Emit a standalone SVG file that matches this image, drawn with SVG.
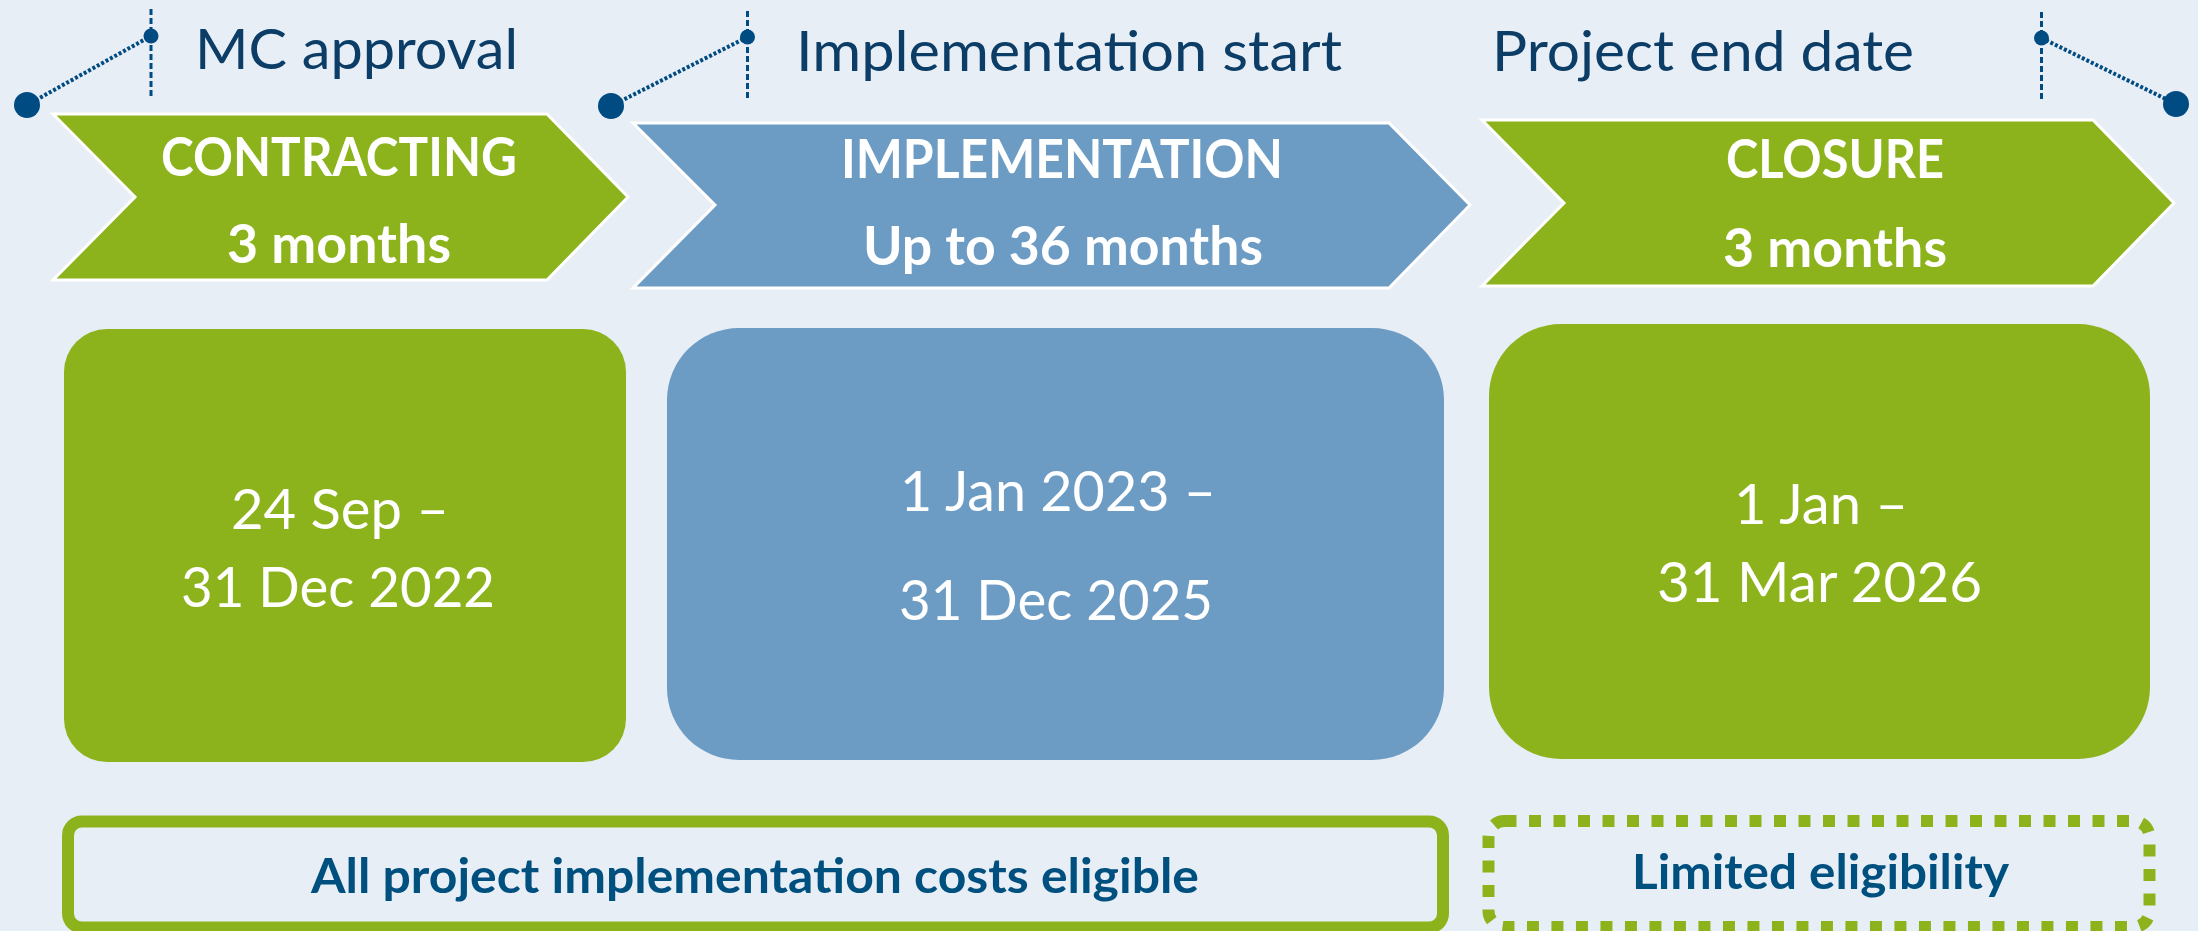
<svg xmlns="http://www.w3.org/2000/svg" width="2198" height="931" viewBox="0 0 2198 931">
  <style>
    .bg { fill: #E7EEF6; }
    .chev-g { fill: #8DB31C; stroke: #FFFFFF; stroke-width: 3; }
    .chev-b { fill: #6C9BC4; stroke: #FFFFFF; stroke-width: 3; }
    .box-g { fill: #8DB31C; }
    .box-b { fill: #6C9BC4; }
    .ttl { font-family: Lato, "Open Sans", "Liberation Sans", sans-serif; font-size: 57px; fill: #0B3D66; }
    .chev-t { font-family: Lato, "Open Sans", "Liberation Sans", sans-serif; font-weight: bold; font-size: 54px; fill: #FFFFFF; }
    .date-t { font-family: Lato, "Open Sans", "Liberation Sans", sans-serif; font-size: 56px; fill: #FFFFFF; }
    .elig-t { font-family: Lato, "Open Sans", "Liberation Sans", sans-serif; font-weight: bold; font-size: 48px; fill: #00507F; }
    .elig-solid { fill: none; stroke: #8DB31C; stroke-width: 12; }
    .elig-dash { fill: none; stroke: #8DB31C; stroke-width: 12; stroke-dasharray: 12 12.5; }
    .vline { stroke: #004B82; stroke-width: 3; stroke-dasharray: 6 3; fill: none; }
    .dline { stroke: #004B82; stroke-width: 4; stroke-dasharray: 3 2; fill: none; }
    .dot { fill: #004B82; }
  </style>
  <rect class="bg" x="0" y="0" width="2198" height="931"/>

  <g id="connectors">
    <line class="vline" x1="151" y1="9" x2="151" y2="99"/>
    <line class="dline" x1="27" y1="105" x2="151" y2="36"/>
    <line class="vline" x1="747.5" y1="11" x2="747.5" y2="101"/>
    <line class="dline" x1="611" y1="106" x2="747.5" y2="37"/>
    <line class="vline" x1="2041.5" y1="12" x2="2041.5" y2="102"/>
    <line class="dline" x1="2041.5" y1="38" x2="2176" y2="104"/>
  </g>

  <g id="milestone-mc">
    <circle class="dot" cx="27" cy="105" r="13"/>
    <circle class="dot" cx="151" cy="36" r="7.5"/>
    <text class="ttl" x="195" y="69" textLength="323" lengthAdjust="spacingAndGlyphs">MC approval</text>
  </g>
  <g id="milestone-impl">
    <circle class="dot" cx="611" cy="106" r="13"/>
    <circle class="dot" cx="747.5" cy="37" r="7.5"/>
    <text class="ttl" x="796" y="71" textLength="546" lengthAdjust="spacingAndGlyphs">Implementation start</text>
  </g>
  <g id="milestone-end">
    <circle class="dot" cx="2041.5" cy="38" r="7.5"/>
    <circle class="dot" cx="2176" cy="104" r="13"/>
    <text class="ttl" x="1492" y="71" textLength="422" lengthAdjust="spacingAndGlyphs">Project end date</text>
  </g>

  <g id="phase-contracting">
    <polygon class="chev-g" points="53,114 547,114 628,197 547,280 53,280 135,197"/>
    <text class="chev-t" x="161" y="176" textLength="356" lengthAdjust="spacingAndGlyphs">CONTRACTING</text>
    <text class="chev-t" x="227" y="263" textLength="224" lengthAdjust="spacingAndGlyphs">3 months</text>
  </g>
  <g id="phase-implementation">
    <polygon class="chev-b" points="633,123 1389,123 1470,205 1389,288 633,288 715,205"/>
    <text class="chev-t" x="841" y="178" textLength="442" lengthAdjust="spacingAndGlyphs">IMPLEMENTATION</text>
    <text class="chev-t" x="863" y="265" textLength="400" lengthAdjust="spacingAndGlyphs">Up to 36 months</text>
  </g>
  <g id="phase-closure">
    <polygon class="chev-g" points="1482,120 2093,120 2174,203 2093,286 1482,286 1564,203"/>
    <text class="chev-t" x="1726" y="178" textLength="218" lengthAdjust="spacingAndGlyphs">CLOSURE</text>
    <text class="chev-t" x="1723" y="267" textLength="224" lengthAdjust="spacingAndGlyphs">3 months</text>
  </g>

  <g id="dates-contracting">
    <rect class="box-g" x="64" y="329" width="562" height="433" rx="43" ry="43"/>
    <text class="date-t" x="231" y="529" textLength="218" lengthAdjust="spacingAndGlyphs">24 Sep –</text>
    <text class="date-t" x="181" y="607" textLength="314" lengthAdjust="spacingAndGlyphs">31 Dec 2022</text>
  </g>
  <g id="dates-implementation">
    <rect class="box-b" x="667" y="328" width="777" height="432" rx="72" ry="72"/>
    <text class="date-t" x="900" y="511" textLength="316" lengthAdjust="spacingAndGlyphs">1 Jan 2023 –</text>
    <text class="date-t" x="899" y="620" textLength="314" lengthAdjust="spacingAndGlyphs">31 Dec 2025</text>
  </g>
  <g id="dates-closure">
    <rect class="box-g" x="1489" y="324" width="661" height="435" rx="72" ry="72"/>
    <text class="date-t" x="1734" y="524" textLength="174" lengthAdjust="spacingAndGlyphs">1 Jan –</text>
    <text class="date-t" x="1657" y="602" textLength="325" lengthAdjust="spacingAndGlyphs">31 Mar 2026</text>
  </g>

  <g id="eligibility-all">
    <rect class="elig-solid" x="68" y="821.5" width="1375" height="106" rx="14" ry="14"/>
    <text class="elig-t" x="311" y="893" textLength="888" lengthAdjust="spacingAndGlyphs">All project implementation costs eligible</text>
  </g>
  <g id="eligibility-limited">
    <rect class="elig-dash" x="1488.5" y="821" width="661" height="106" rx="16" ry="16"/>
    <text class="elig-t" x="1632" y="889" textLength="377" lengthAdjust="spacingAndGlyphs">Limited eligibility</text>
  </g>
</svg>
